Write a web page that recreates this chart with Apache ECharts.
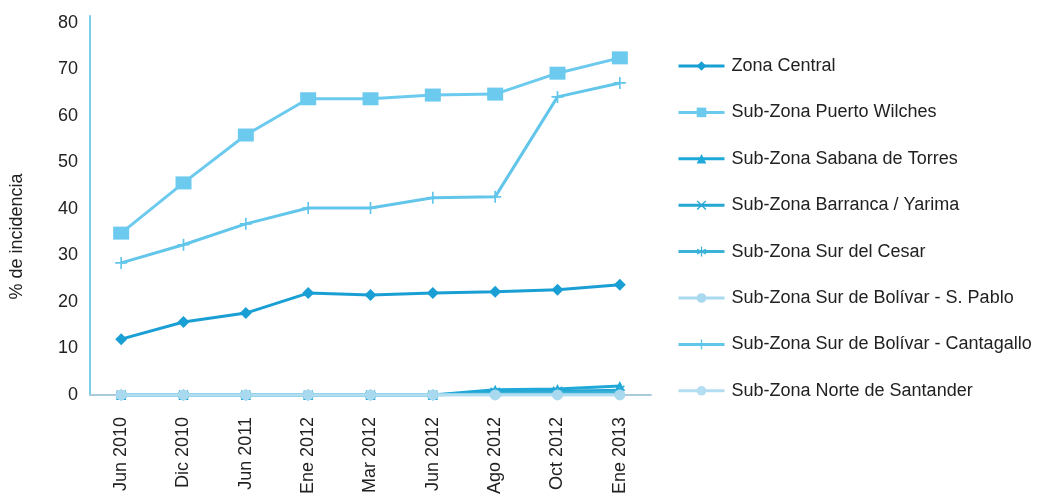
<!DOCTYPE html>
<html><head><meta charset="utf-8">
<script src="https://cdn.jsdelivr.net/npm/echarts@6/dist/echarts.min.js"></script>
<style>html,body{margin:0;padding:0;background:#fff}#c{width:1045px;height:497px}</style>
</head><body><div id="c"></div>
<script>
const categories = ['Jun 2010','Dic 2010','Jun 2011','Ene 2012','Mar 2012','Jun 2012','Ago 2012','Oct 2012','Ene 2013'];
const yTicks = [0,10,20,30,40,50,60,70,80];
const zonaCentral = [12.0,15.7,17.6,21.9,21.5,21.9,22.2,22.6,23.7];
const puertoWilches = [34.8,45.6,55.9,63.7,63.7,64.5,64.7,69.2,72.5];
const sabanaTorres = [0,0,0,0,0,0,1.1,1.3,1.9];
const barrancaYarima = [0,0,0,0,0,0,0.6,0.8,1.0];
const surCesar = [0,0,0,0,0,0,0.3,0.4,0.5];
const surBolivarPablo = [0,0,0,0,0,0,0,0,0];
const surBolivarCantagallo = [28.4,32.3,36.8,40.2,40.2,42.4,42.6,64.1,67.1];
const norteSantander = [0,0,0,0,0,0,0,0,0];

const plus = 'path://M4.3,0H5.7V4.3H10V5.7H5.7V10H4.3V5.7H0V4.3H4.3Z';
const cross = 'path://M1,0L5,4L9,0L10,1L6,5L10,9L9,10L5,6L1,10L0,9L4,5L0,1Z';
const star = 'path://M4.4,0H5.6V3.9L9,2L9.6,3L6.2,5L9.6,7L9,8L5.6,6.1V10H4.4V6.1L1,8L0.4,7L3.8,5L0.4,3L1,2L4.4,3.9Z';

function mk(name, data, color, symbol, size, width){
  return {name, type:'line', data, symbol: symbol||'none', symbolSize: size||8, showSymbol: !!symbol,
    lineStyle:{color, width: width||3}, itemStyle:{color}, z: 2};
}
const series = [
  mk('Zona Central', zonaCentral, '#1a9fd4', 'diamond', 12),
  mk('Sub-Zona Puerto Wilches', puertoWilches, '#6ccaef', 'rect', [16,13]),
  mk('Sub-Zona Sabana de Torres', sabanaTorres, '#1ea9d8', 'triangle', 10),
  mk('Sub-Zona Barranca / Yarima', barrancaYarima, '#26a6d3', cross, 10),
  mk('Sub-Zona Sur del Cesar', surCesar, '#3bb2d8', star, 11),
  mk('Sub-Zona Sur de Bolívar - S. Pablo', surBolivarPablo, '#a9d9ef', 'circle', 11),
  mk('Sub-Zona Sur de Bolívar - Cantagallo', surBolivarCantagallo, '#62c5ea', plus, 12),
  mk('Sub-Zona Norte de Santander', norteSantander, '#b3ddf0', null, 8)
];

const chart = echarts.init(document.getElementById('c'));
chart.setOption({
  animation:false,
  textStyle:{fontFamily:'Liberation Sans, Arial, sans-serif'},
  grid:{left:89, right:394, top:16, bottom:102},
  legend:{orient:'vertical', left:672, top:52, itemWidth:46, itemHeight:12, itemGap:28.4,
    lineStyle:{width:3},
    textStyle:{fontSize:18, color:'#222', padding:[0,0,0,2]},
    data: series.map(s=>s.name)},
  xAxis:{type:'category', data:categories, boundaryGap:true,
    axisLine:{lineStyle:{color:'#a9cbdc', width:2}}, axisTick:{show:false},
    axisLabel:{rotate:90, fontSize:18, color:'#222', margin:22}},
  yAxis:{type:'value', min:0, max:81.5, interval:10,
    name:'% de incidencia', nameLocation:'middle', nameGap:64, nameRotate:90,
    nameTextStyle:{fontSize:18, color:'#222', padding:[0,62,0,0]},
    axisLine:{show:true, lineStyle:{color:'#7ccde6', width:2}}, axisTick:{show:false},
    splitLine:{show:false},
    axisLabel:{fontSize:18, color:'#222', margin:12, formatter: v => yTicks.includes(v) ? String(v) : ''}},
  series
});
</script></body></html>
